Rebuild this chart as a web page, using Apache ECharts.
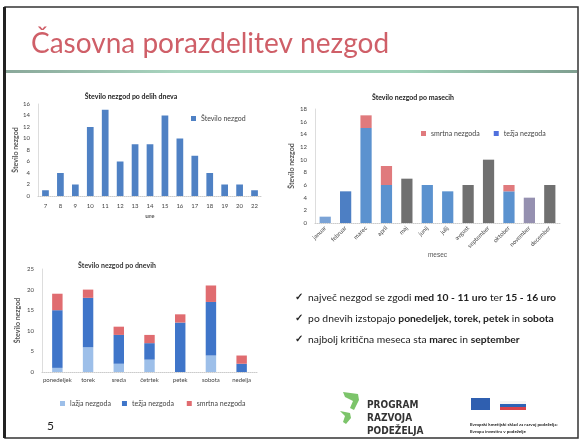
<!DOCTYPE html>
<html>
<head>
<meta charset="utf-8">
<script src="https://cdn.jsdelivr.net/npm/echarts@6/dist/echarts.min.js"></script>
<style>
html,body{margin:0;padding:0;background:#fff;}
#main{width:582px;height:442px;}
</style>
</head>
<body>
<div id="main"></div>
<script>
/* podatki */
const ure = ["7","8","9","10","11","12","13","14","15","16","17","18","19","20","22"];
const nezgodePoUrah = [1,4,2,12,15,6,9,9,14,10,7,4,2,2,1];

const meseci = ["januar","februar","marec","april","maj","junij","julij","avgust","september","oktober","november","december"];
const mesTezja = [1,5,15,6,0,6,5,0,0,5,0,0];
const mesSmrtna = [0,0,2,3,0,0,0,0,0,1,0,0];
const mesOstalo = [0,0,0,0,7,0,0,6,10,0,4,6];

const dnevi = ["ponedeljek","torek","sreda","četrtek","petek","sobota","nedelja"];
const dnLazja = [1,6,2,3,0,4,0];
const dnTezja = [14,12,7,4,12,13,2];
const dnSmrtna = [4,2,2,2,2,4,2];

const ff = "Lato, 'Open Sans', sans-serif";
const axisTxt = {fontSize:6,color:"#444",fontFamily:ff,interval:0};
const chart = echarts.init(document.getElementById("main"));

function yAx(grid,max,interval,name,gap){
	return {
		type:"value",gridIndex:grid,min:0,max,interval,
		name,nameLocation:"middle",nameGap:gap,
		nameTextStyle:{fontSize:7,fontWeight:"bold",color:"#555",fontFamily:ff},
		axisLine:{show:true,lineStyle:{color:"#ddd"}},
		axisTick:{show:false},splitLine:{show:false},
		axisLabel:{fontSize:6,color:"#444",fontFamily:ff}
	};
}

const legTxt = {fontSize:7,color:"#444",fontFamily:ff};

const option = {
	backgroundColor:"#fff",
	animation:false,
	title:[
		{text:"Število nezgod po delih dneva",left:126,top:88,textAlign:"center",
		 textStyle:{fontSize:7,fontWeight:"bold",color:"#222",fontFamily:ff}},
		{text:"Število nezgod po masecih",left:408,top:89,textAlign:"center",
		 textStyle:{fontSize:7,fontWeight:"bold",color:"#222",fontFamily:ff}},
		{text:"Število nezgod po dnevih",left:112,top:257,textAlign:"center",
		 textStyle:{fontSize:7,fontWeight:"bold",color:"#333",fontFamily:ff}}
	],
	legend:[
		{data:["Število nezgod"],left:186,top:110,icon:"rect",itemWidth:5,itemHeight:5,itemGap:4,
		 textStyle:legTxt},
		{data:["smrtna nezgoda","težja nezgoda"],left:416,top:125,icon:"rect",itemWidth:5,itemHeight:5,itemGap:14,
		 textStyle:legTxt},
		{data:["lažja nezgoda","težja nezgoda ","smrtna nezgoda "],left:55,top:395,icon:"rect",itemWidth:5,itemHeight:5,itemGap:11,
		 textStyle:legTxt}
	],
	grid:[
		{left:38,top:104,width:224,height:92},
		{left:315,top:109,width:245,height:114},
		{left:42,top:269,width:215,height:103}
	],
	xAxis:[
		{type:"category",gridIndex:0,data:ure,name:"ure",nameLocation:"middle",nameGap:17,
		 nameTextStyle:{fontSize:6,fontWeight:"bold",color:"#555"},
		 axisLine:{lineStyle:{color:"#ccc",type:"dotted"}},axisTick:{show:false},
		 axisLabel:Object.assign({margin:7},axisTxt)},
		{type:"category",gridIndex:1,data:meseci,name:"mesec",nameLocation:"middle",nameGap:29,
		 nameTextStyle:{fontSize:6.5,color:"#555"},
		 axisLine:{lineStyle:{color:"#ccc",type:"dotted"}},axisTick:{show:false},
		 axisLabel:Object.assign({rotate:45,margin:4},axisTxt)},
		{type:"category",gridIndex:2,data:dnevi,
		 axisLine:{lineStyle:{color:"#ccc",type:"dotted"}},axisTick:{show:false},
		 axisLabel:Object.assign({margin:5},axisTxt)}
	],
	yAxis:[
		yAx(0,16,2,"Število nezgod",19),
		yAx(1,18,2,"Število nezgod",20),
		yAx(2,25,5,"Število nezgod",21)
	],
	series:[
		{name:"Število nezgod",type:"bar",xAxisIndex:0,yAxisIndex:0,data:nezgodePoUrah,
		 barWidth:"45%",itemStyle:{color:"#4f81c4"}},

		{name:"težja nezgoda",type:"bar",stack:"m",xAxisIndex:1,yAxisIndex:1,data:mesTezja,
		 barWidth:"55%",itemStyle:{color:(p)=>p.dataIndex===0?"#7ba3d6":(p.dataIndex===1?"#4d7fc4":"#5b92cf")}},
		{name:"smrtna nezgoda",type:"bar",stack:"m",xAxisIndex:1,yAxisIndex:1,data:mesSmrtna,
		 barWidth:"55%",itemStyle:{color:"#e07a7d"}},
		{name:"ostalo",type:"bar",stack:"m",xAxisIndex:1,yAxisIndex:1,data:mesOstalo,
		 barWidth:"55%",itemStyle:{color:(p)=>p.dataIndex===10?"#9590b0":"#707070"}},

		{name:"lažja nezgoda",type:"bar",stack:"d",xAxisIndex:2,yAxisIndex:2,data:dnLazja,
		 barWidth:"34%",itemStyle:{color:"#9dbfe9"}},
		{name:"težja nezgoda ",type:"bar",stack:"d",xAxisIndex:2,yAxisIndex:2,data:dnTezja,
		 barWidth:"34%",itemStyle:{color:"#3f75c9"}},
		{name:"smrtna nezgoda ",type:"bar",stack:"d",xAxisIndex:2,yAxisIndex:2,data:dnSmrtna,
		 barWidth:"34%",itemStyle:{color:"#e06c70"}}
	],
	graphic:[
		/* okvir */
		{type:"rect",shape:{x:5,y:7,width:573,height:431},style:{fill:"none",stroke:"#333",lineWidth:1.5},z:-1},
		{type:"rect",shape:{x:3,y:7,width:3,height:431},style:{fill:"#222"}},
		{type:"text",left:31,top:30,style:{text:"Časovna porazdelitev nezgod",fontSize:28,fontFamily:ff,fill:"#cf5f68"}},
		{type:"rect",shape:{x:6,y:70,width:571,height:3},
		 style:{fill:new echarts.graphic.LinearGradient(0,0,1,0,[
			{offset:0,color:"#8aa89a"},{offset:0.3,color:"#a8d5bf"},{offset:0.7,color:"#9fd1b8"},{offset:1,color:"#7f9f90"}])}},
		/* ugotovitve */
		{type:"text",left:295,top:287,style:{
			text:"{c|✓}  {n|največ nezgod se zgodi }{b|med 10 - 11 uro}{n| ter }{b|15 - 16 uro}\n"+
			     "{c|✓}  {n|po dnevih izstopajo }{b|ponedeljek, torek, petek}{n| in }{b|sobota}\n"+
			     "{c|✓}  {n|najbolj kritična meseca sta }{b|marec}{n| in }{b|september}",
			fontSize:10,lineHeight:21,fill:"#222",fontFamily:ff,
			rich:{c:{fontSize:10,fontWeight:"bold",fill:"#222",lineHeight:21},
			      n:{fontSize:10.3,fontFamily:ff,fill:"#222",lineHeight:21},
			      b:{fontSize:10.3,fontFamily:ff,fontWeight:"bold",fill:"#222",lineHeight:21}}
		}},
		/* logo */
		{type:"polygon",shape:{points:[[343,392],[358,394],[359,400],[354,410],[350,408],[353,401],[345,397]]},style:{fill:"#7cc46a"}},
		{type:"polygon",shape:{points:[[340,411],[350,413],[351,418],[346,424],[343,422],[345,416]]},style:{fill:"#7cc46a"}},
		{type:"text",left:367,top:399,style:{text:"PROGRAM\nRAZVOJA\nPODEŽELJA",fontSize:10,lineHeight:13,
		 fontWeight:"bold",fontFamily:"'DejaVu Sans Condensed', 'DejaVu Sans', sans-serif",fill:"#333"}},
		{type:"rect",shape:{x:471,y:398,width:19,height:12},style:{fill:"#2f5fb0"}},
		{type:"rect",shape:{x:500,y:401,width:26,height:3},style:{fill:"#f4f4f4"}},
		{type:"rect",shape:{x:500,y:404,width:26,height:3},style:{fill:"#2e63b5"}},
		{type:"rect",shape:{x:500,y:407,width:26,height:3},style:{fill:"#d9434a"}},
		{type:"text",left:470,top:421,style:{text:"Evropski kmetijski sklad za razvoj podeželja:\nEvropa investira v podeželje",
		 fontSize:4.5,lineHeight:7,fontFamily:ff,fill:"#222",fontWeight:"bold"}},
		{type:"text",left:47,top:420,style:{text:"5",fontSize:12,fontFamily:ff,fill:"#222"}}
	]
};
chart.setOption(option);
</script>
</body>
</html>
